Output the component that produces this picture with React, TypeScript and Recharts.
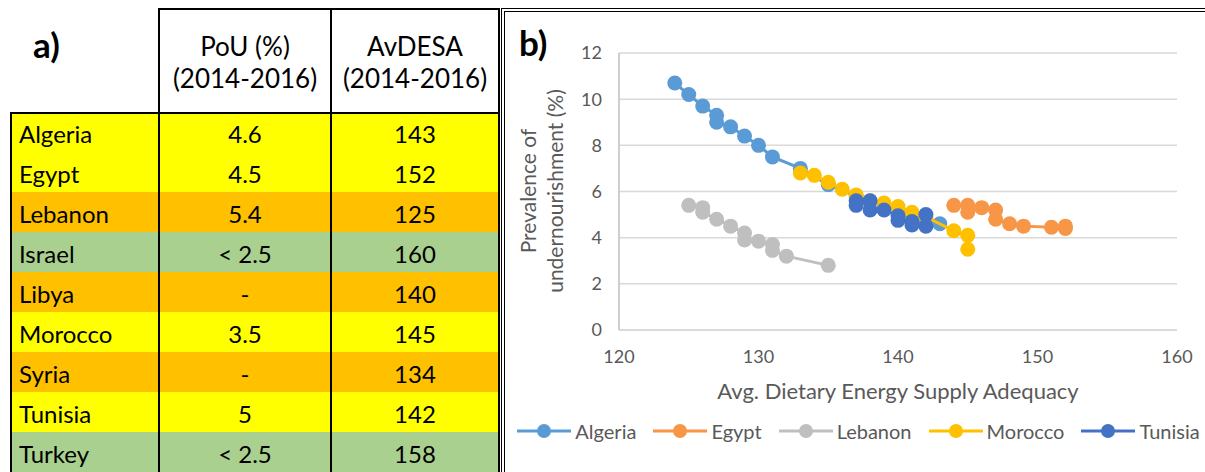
import { ScatterChart, Scatter, XAxis, YAxis, CartesianGrid } from 'recharts'

// table (panel a)
const countries = ['Algeria', 'Egypt', 'Lebanon', 'Israel', 'Libya', 'Morocco', 'Syria', 'Tunisia', 'Turkey']
const pouValues = ['4.6', '4.5', '5.4', '< 2.5', '-', '3.5', '-', '5', '< 2.5']
const avdesaValues = ['143', '152', '125', '160', '140', '145', '134', '142', '158']
const rowColors = ['#FFFF00', '#FFFF00', '#FFC000', '#A9D08E', '#FFC000', '#FFFF00', '#FFC000', '#FFFF00', '#A9D08E']

// chart (panel b)
const algeriaX = [124, 125, 126, 127, 127, 128, 129, 130, 131, 133, 135, 137, 139, 141, 142, 143]
const algeriaY = [10.7, 10.2, 9.7, 9.3, 9.0, 8.8, 8.4, 8.0, 7.5, 7.0, 6.3, 5.8, 5.4, 5.0, 4.8, 4.6]
const egyptX = [144, 145, 145, 146, 147, 147, 148, 149, 151, 152, 152]
const egyptY = [5.4, 5.4, 5.1, 5.3, 5.2, 4.8, 4.6, 4.5, 4.45, 4.4, 4.5]
const lebanonX = [135, 132, 131, 131, 130, 129, 129, 128, 127, 126, 126, 125]
const lebanonY = [2.8, 3.2, 3.45, 3.7, 3.85, 3.9, 4.2, 4.5, 4.8, 5.1, 5.3, 5.4]
const moroccoX = [133, 134, 135, 136, 137, 138, 139, 140, 141, 142, 144, 145, 145]
const moroccoY = [6.8, 6.7, 6.4, 6.1, 5.85, 5.6, 5.5, 5.35, 5.1, 4.9, 4.3, 4.1, 3.5]
const tunisiaX = [137, 137, 138, 138, 139, 140, 140, 141, 141, 142, 142]
const tunisiaY = [5.6, 5.4, 5.6, 5.2, 5.2, 4.95, 4.75, 4.7, 4.55, 4.5, 5.0]

const xTicks = [120, 130, 140, 150, 160]
const yTicks = [0, 2, 4, 6, 8, 10, 12]

const toPoints = (xs: number[], ys: number[]) => xs.map((x, i) => ({ x, y: ys[i] }))

const series = [
  { name: 'Algeria', color: '#5B9BD5', data: toPoints(algeriaX, algeriaY) },
  { name: 'Egypt', color: '#F79646', data: toPoints(egyptX, egyptY) },
  { name: 'Lebanon', color: '#BFBFBF', data: toPoints(lebanonX, lebanonY) },
  { name: 'Morocco', color: '#FFC000', data: toPoints(moroccoX, moroccoY) },
  { name: 'Tunisia', color: '#4472C4', data: toPoints(tunisiaX, tunisiaY) },
]

const FONT = 'Lato, "Open Sans", sans-serif'
const GREY = '#595959'

function Table() {
  const rowTop = 112
  const rowH = 40
  const cols = [10, 159, 331, 499]
  return (
    <div style={{ position: 'absolute', left: 0, top: 0, width: 500, height: 472, fontFamily: FONT, color: '#000' }}>
      <div style={{ position: 'absolute', left: 33, top: 23, fontSize: 35, fontWeight: 700 }}>a)</div>
      {/* header */}
      <div style={{ position: 'absolute', left: cols[1], top: 8, width: cols[3] - cols[1], height: rowTop - 8, borderTop: '2px solid #000' }} />
      {[['PoU (%)', '(2014-2016)'], ['AvDESA', '(2014-2016)']].map((h, i) => (
        <div key={i} style={{
          position: 'absolute', left: cols[i + 1], top: 30, width: cols[i + 2] - cols[i + 1],
          textAlign: 'center', fontSize: 26, lineHeight: '32px',
        }}>
          <div>{h[0]}</div>
          <div>{h[1]}</div>
        </div>
      ))}
      {countries.map((c, i) => (
        <div key={c} style={{
          position: 'absolute', left: cols[0], top: rowTop + i * rowH, width: cols[3] - cols[0],
          height: rowH, background: rowColors[i], fontSize: 24,
        }}>
          <span style={{ position: 'absolute', left: 9, top: 9, lineHeight: '26px' }}>{c}</span>
          <span style={{ position: 'absolute', left: cols[1] - cols[0], width: cols[2] - cols[1], top: 9, lineHeight: '26px', textAlign: 'center' }}>{pouValues[i]}</span>
          <span style={{ position: 'absolute', left: cols[2] - cols[0], width: cols[3] - cols[2], top: 9, lineHeight: '26px', textAlign: 'center' }}>{avdesaValues[i]}</span>
        </div>
      ))}
      {/* borders */}
      <div style={{ position: 'absolute', left: cols[0], top: rowTop, width: cols[3] - cols[0], height: 2, background: '#000' }} />
      <div style={{ position: 'absolute', left: cols[0], top: rowTop, width: 2, height: 472 - rowTop, background: '#000' }} />
      {[cols[1], cols[2], cols[3]].map(x => (
        <div key={x} style={{ position: 'absolute', left: x - 1, top: 8, width: 2, height: 464, background: '#000' }} />
      ))}
    </div>
  )
}

function YLabel() {
  return (
    <g>
      <text transform="translate(23,191) rotate(-90)" textAnchor="middle" fill={GREY} fontSize={21} fontFamily={FONT} dominantBaseline="central">
        Prevalence of
      </text>
      <text transform="translate(50,191) rotate(-90)" textAnchor="middle" fill={GREY} fontSize={21} fontFamily={FONT} dominantBaseline="central">
        undernourishment (%)
      </text>
    </g>
  )
}

function LegendRow() {
  return (
    <div style={{
      position: 'absolute', left: 508, top: 419, width: 701, display: 'flex', justifyContent: 'center',
      gap: 17, fontFamily: FONT, fontSize: 20, color: GREY,
    }}>
      {series.map(s => (
        <div key={s.name} style={{ display: 'flex', alignItems: 'center', gap: 4 }}>
          <svg width={54} height={24}>
            <line x1={0} y1={12} x2={54} y2={12} stroke={s.color} strokeWidth={3} />
            <circle cx={27} cy={12} r={7} fill={s.color} />
          </svg>
          <span>{s.name}</span>
        </div>
      ))}
    </div>
  )
}

export default function App() {
  return (
    <div style={{ position: 'absolute', left: 0, top: 0, width: 1205, height: 472, background: '#fff', overflow: 'hidden' }}>
      <Table />
      <div style={{ position: 'absolute', left: 501, top: 8, width: 720, height: 480, borderLeft: '4px double #000', borderTop: '4px double #000' }} />
      <div style={{ position: 'absolute', left: 519, top: 21, fontSize: 35, fontWeight: 700, fontFamily: FONT }}>b)</div>
      <div style={{ position: 'absolute', left: 504, top: 0 }}>
        <ScatterChart width={701} height={472} margin={{ top: 53, right: 28, left: 70, bottom: 102 }}>
          <CartesianGrid horizontal vertical={false} stroke="#D9D9D9" strokeWidth={1.5} />
          <XAxis
            type="number" dataKey="x" domain={[120, 160]} ticks={xTicks} height={40}
            axisLine={{ stroke: '#D9D9D9', strokeWidth: 1.5 }} tickLine={false} tickSize={8} tickMargin={12}
            tick={{ fill: GREY, fontSize: 18, fontFamily: FONT }}
            label={{ value: 'Avg. Dietary Energy Supply Adequacy', position: 'insideBottom', offset: -29, fill: GREY, fontSize: 22, fontFamily: FONT }}
          />
          <YAxis
            type="number" dataKey="y" domain={[0, 12]} ticks={yTicks} width={45}
            axisLine={{ stroke: '#BFBFBF', strokeWidth: 1.5 }} tickLine={false} tickSize={8} tickMargin={9}
            tick={{ fill: GREY, fontSize: 18, fontFamily: FONT }}
          />
          {series.map(s => (
            <Scatter
              key={s.name}
              name={s.name}
              data={s.data}
              fill={s.color}
              line={{ stroke: s.color, strokeWidth: 3 }}
              lineType="joint"
              isAnimationActive={false}
              shape={(p: any) => <circle cx={p.cx} cy={p.cy} r={7.5} fill={s.color} />}
            />
          ))}
          <YLabel />
        </ScatterChart>
      </div>
      <LegendRow />
    </div>
  )
}
